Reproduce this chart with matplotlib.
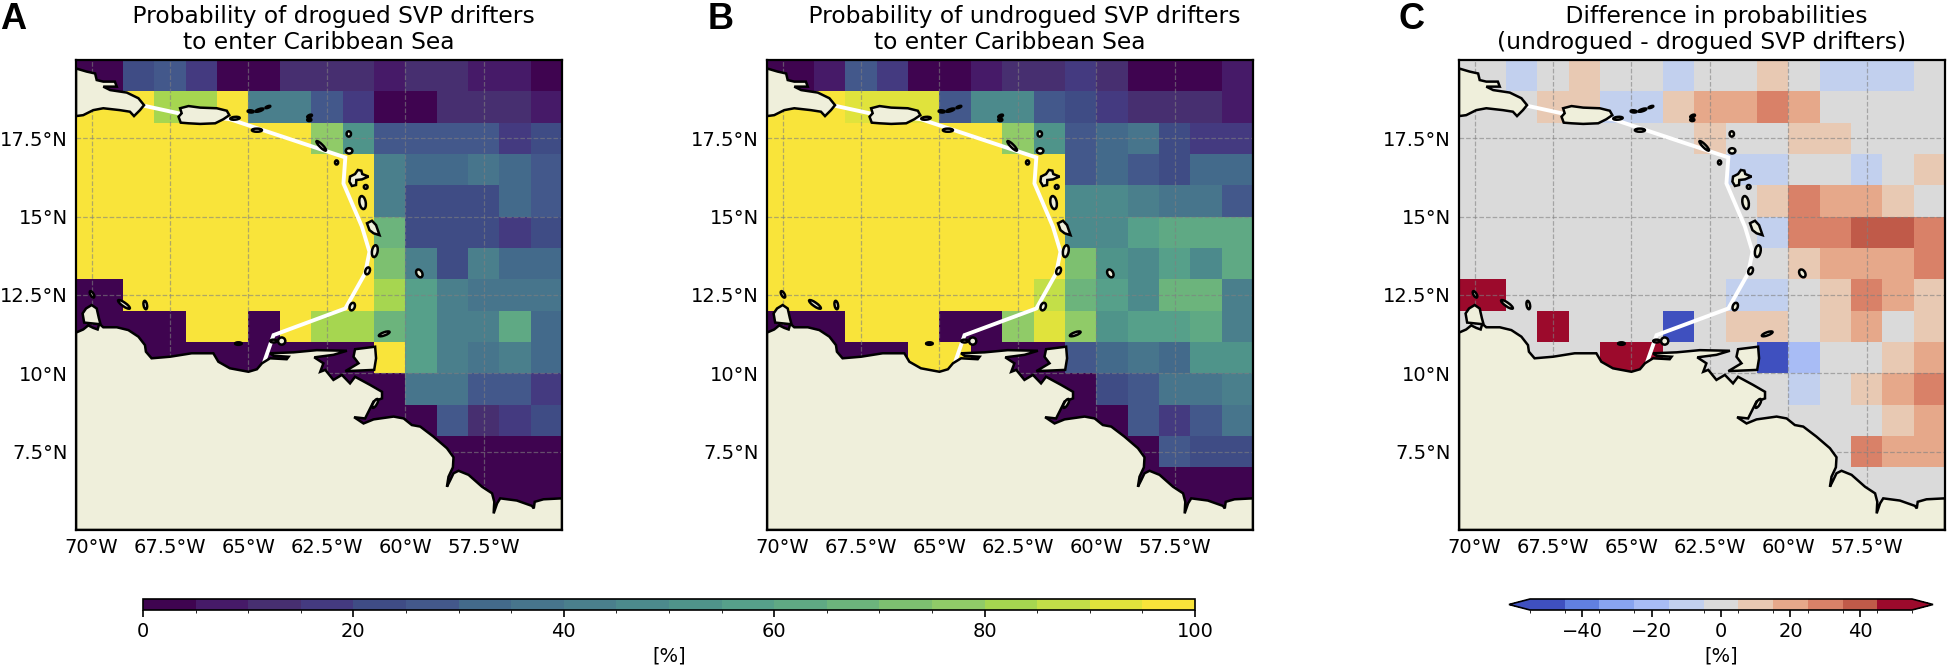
import matplotlib
matplotlib.use('Agg')
import matplotlib.pyplot as plt
from matplotlib.colors import ListedColormap, BoundaryNorm
from matplotlib.patches import Ellipse, Polygon

lon_edges = list(range(-71, -54))
lat_edges = list(range(20, 4, -1))
lon_ticks = [-70, -67.5, -65, -62.5, -60, -57.5]
lat_ticks = [7.5, 10, 12.5, 15, 17.5]
lon_labels = ['70°W', '67.5°W', '65°W', '62.5°W', '60°W', '57.5°W']
lat_labels = ['7.5°N', '10°N', '12.5°N', '15°N', '17.5°N']

# rows go from north to south, columns from west to east
drogued = [
    [2.5, 2.5, 22.5, 27.5, 17.5, 2.5, 2.5, 12.5, 12.5, 12.5, 7.5, 12.5, 12.5, 7.5, 7.5, 2.5],
    [97.5, 97.5, 97.5, 82.5, 82.5, 97.5, 42.5, 42.5, 27.5, 17.5, 2.5, 2.5, 12.5, 12.5, 12.5, 7.5],
    [97.5, 97.5, 97.5, 97.5, 97.5, 97.5, 97.5, 97.5, 77.5, 52.5, 27.5, 27.5, 27.5, 27.5, 17.5, 22.5],
    [97.5, 97.5, 97.5, 97.5, 97.5, 97.5, 97.5, 97.5, 97.5, 97.5, 42.5, 32.5, 32.5, 37.5, 32.5, 27.5],
    [97.5, 97.5, 97.5, 97.5, 97.5, 97.5, 97.5, 97.5, 97.5, 97.5, 42.5, 22.5, 22.5, 22.5, 32.5, 27.5],
    [97.5, 97.5, 97.5, 97.5, 97.5, 97.5, 97.5, 97.5, 97.5, 97.5, 67.5, 22.5, 22.5, 22.5, 17.5, 22.5],
    [97.5, 97.5, 97.5, 97.5, 97.5, 97.5, 97.5, 97.5, 97.5, 97.5, 72.5, 42.5, 22.5, 42.5, 32.5, 32.5],
    [2.5, 2.5, 97.5, 97.5, 97.5, 97.5, 97.5, 97.5, 97.5, 97.5, 82.5, 57.5, 42.5, 37.5, 37.5, 37.5],
    [2.5, 2.5, 2.5, 2.5, 97.5, 97.5, 2.5, 97.5, 82.5, 82.5, 67.5, 57.5, 42.5, 42.5, 62.5, 32.5],
    [2.5, 2.5, 2.5, 2.5, 2.5, 2.5, 2.5, 2.5, 2.5, 2.5, 97.5, 57.5, 42.5, 37.5, 42.5, 32.5],
    [2.5, 2.5, 2.5, 2.5, 2.5, 2.5, 2.5, 2.5, 2.5, 2.5, 2.5, 37.5, 37.5, 27.5, 27.5, 17.5],
    [2.5, 2.5, 2.5, 2.5, 2.5, 2.5, 2.5, 2.5, 2.5, 2.5, 2.5, 2.5, 27.5, 12.5, 17.5, 22.5],
    [2.5, 2.5, 2.5, 2.5, 2.5, 2.5, 2.5, 2.5, 2.5, 2.5, 2.5, 2.5, 2.5, 2.5, 2.5, 2.5],
    [2.5, 2.5, 2.5, 2.5, 2.5, 2.5, 2.5, 2.5, 2.5, 2.5, 2.5, 2.5, 2.5, 2.5, 2.5, 2.5],
    [2.5, 2.5, 2.5, 2.5, 2.5, 2.5, 2.5, 2.5, 2.5, 2.5, 2.5, 2.5, 2.5, 2.5, 2.5, 2.5],
]
undrogued = [
    [2.5, 2.5, 7.5, 27.5, 17.5, 2.5, 2.5, 7.5, 12.5, 12.5, 17.5, 12.5, 2.5, 2.5, 2.5, 7.5],
    [97.5, 97.5, 97.5, 92.5, 92.5, 92.5, 27.5, 47.5, 47.5, 27.5, 22.5, 17.5, 12.5, 12.5, 12.5, 7.5],
    [97.5, 97.5, 97.5, 97.5, 97.5, 97.5, 97.5, 97.5, 77.5, 52.5, 27.5, 32.5, 37.5, 22.5, 17.5, 17.5],
    [97.5, 97.5, 97.5, 97.5, 97.5, 97.5, 97.5, 97.5, 97.5, 97.5, 27.5, 32.5, 27.5, 22.5, 32.5, 32.5],
    [97.5, 97.5, 97.5, 97.5, 97.5, 97.5, 97.5, 97.5, 97.5, 97.5, 47.5, 47.5, 42.5, 37.5, 37.5, 27.5],
    [97.5, 97.5, 97.5, 97.5, 97.5, 97.5, 97.5, 97.5, 97.5, 97.5, 47.5, 47.5, 57.5, 62.5, 62.5, 62.5],
    [97.5, 97.5, 97.5, 97.5, 97.5, 97.5, 97.5, 97.5, 97.5, 97.5, 72.5, 52.5, 47.5, 57.5, 47.5, 62.5],
    [97.5, 97.5, 97.5, 97.5, 97.5, 97.5, 97.5, 97.5, 97.5, 87.5, 67.5, 57.5, 47.5, 67.5, 67.5, 42.5],
    [2.5, 2.5, 2.5, 97.5, 97.5, 97.5, 2.5, 2.5, 77.5, 92.5, 77.5, 52.5, 57.5, 57.5, 62.5, 42.5],
    [2.5, 2.5, 2.5, 2.5, 2.5, 97.5, 97.5, 2.5, 2.5, 2.5, 27.5, 32.5, 37.5, 32.5, 52.5, 52.5],
    [2.5, 2.5, 2.5, 2.5, 2.5, 2.5, 2.5, 2.5, 2.5, 2.5, 2.5, 22.5, 27.5, 37.5, 37.5, 42.5],
    [2.5, 2.5, 2.5, 2.5, 2.5, 2.5, 2.5, 2.5, 2.5, 2.5, 2.5, 2.5, 27.5, 17.5, 27.5, 37.5],
    [2.5, 2.5, 2.5, 2.5, 2.5, 2.5, 2.5, 2.5, 2.5, 2.5, 2.5, 2.5, 2.5, 27.5, 22.5, 22.5],
    [2.5, 2.5, 2.5, 2.5, 2.5, 2.5, 2.5, 2.5, 2.5, 2.5, 2.5, 2.5, 2.5, 2.5, 2.5, 2.5],
    [2.5, 2.5, 2.5, 2.5, 2.5, 2.5, 2.5, 2.5, 2.5, 2.5, 2.5, 2.5, 2.5, 2.5, 2.5, 2.5],
]
difference = [
    [0, 0, -10, 0, 10, 0, 0, -10, 0, 0, 10, 0, -10, -10, -10, 0],
    [0, 0, 0, 10, 10, -10, -10, 10, 20, 20, 30, 20, 0, 0, 0, 0],
    [0, 0, 0, 0, 0, 0, 0, 0, 10, 0, 0, 10, 10, 0, 0, 0],
    [0, 0, 0, 0, 0, 0, 0, 0, 0, -10, -10, 0, 0, -10, 0, 10],
    [0, 0, 0, 0, 0, 0, 0, 0, 0, 0, 10, 30, 20, 20, 10, 0],
    [0, 0, 0, 0, 0, 0, 0, 0, 0, 0, -10, 30, 30, 40, 40, 30],
    [0, 0, 0, 0, 0, 0, 0, 0, 0, 0, 0, 10, 20, 20, 20, 30],
    [50, 50, 0, 0, 0, 0, 0, 0, 0, -10, -10, 0, 10, 30, 20, 10],
    [0, 0, 0, 50, 0, 0, 0, -50, 0, 10, 10, 0, 10, 20, 0, 10],
    [0, 0, 0, 0, 0, 50, 50, 0, 0, 0, -50, -20, 0, 0, 10, 20],
    [0, 0, 0, 0, 0, 0, 0, 0, 0, 0, 0, -10, 0, 10, 20, 30],
    [0, 0, 0, 0, 0, 0, 0, 0, 0, 0, 0, 0, 0, 0, 10, 20],
    [0, 0, 0, 0, 0, 0, 0, 0, 0, 0, 0, 0, 0, 30, 20, 20],
    [0, 0, 0, 0, 0, 0, 0, 0, 0, 0, 0, 0, 0, 0, 0, 0],
    [0, 0, 0, 0, 0, 0, 0, 0, 0, 0, 0, 0, 0, 0, 0, 0],
]

prob_levels = list(range(0, 105, 5))
prob_colors = ['#3f0450', '#461a68', '#472f70', '#443a80', '#3f4c85', '#43588b', '#436a8b',
               '#47758c', '#4a7f8c', '#4c8a8c', '#4f948a', '#56a08a', '#5fa984', '#6cb47c',
               '#7dc070', '#90cb68', '#a6d650', '#c3df48', '#e0e33c', '#f9e43a']
diff_levels = list(range(-55, 65, 10))
diff_colors = ['#3f50bf', '#6180e0', '#88a4f0', '#a8bcf5', '#c2d0ee', '#dadada',
               '#e8c9b3', '#e6a88a', '#d98168', '#c05a49', '#9c0a2c']

# wybrzeze
main_coast = [(-70.50, 11.30), (-70.27, 11.40), (-70.11, 11.53), (-69.95, 11.45), (-69.81, 11.40),
              (-69.76, 11.57), (-70.24, 11.62), (-70.29, 11.91), (-70.18, 12.07), (-70.00, 12.18),
              (-69.84, 12.07), (-69.77, 11.76), (-69.71, 11.54), (-69.63, 11.47), (-69.20, 11.47),
              (-68.83, 11.38), (-68.51, 11.17), (-68.30, 10.90), (-68.27, 10.69), (-68.09, 10.48),
              (-67.50, 10.53), (-66.81, 10.64), (-66.12, 10.64), (-65.96, 10.37), (-65.59, 10.16),
              (-65.00, 10.05), (-64.73, 10.13), (-64.57, 10.32), (-64.31, 10.48), (-63.78, 10.45),
              (-63.72, 10.53), (-64.20, 10.56), (-64.31, 10.64), (-63.56, 10.67), (-62.82, 10.74),
              (-61.86, 10.72), (-62.29, 10.59), (-62.90, 10.51), (-62.61, 10.32), (-62.71, 10.05),
              (-62.55, 10.11), (-62.29, 9.79), (-62.02, 9.95), (-61.76, 9.68), (-61.60, 9.89),
              (-61.12, 9.63), (-60.74, 9.41), (-60.74, 9.20), (-61.01, 9.10), (-61.12, 8.88),
              (-61.28, 8.56), (-61.63, 8.60), (-61.33, 8.40), (-61.01, 8.53), (-60.37, 8.62),
              (-60.05, 8.56), (-59.79, 8.35), (-59.52, 8.30), (-59.10, 7.98), (-58.67, 7.61),
              (-58.46, 7.32), (-58.48, 7.00), (-58.62, 6.70), (-58.67, 6.38), (-58.56, 6.60),
              (-58.46, 6.81), (-58.30, 6.89), (-57.98, 6.76), (-57.55, 6.38), (-57.23, 6.17),
              (-57.16, 5.90), (-57.18, 5.53), (-57.07, 5.85), (-56.97, 6.01), (-56.44, 5.94),
              (-55.96, 5.77), (-55.90, 5.69), (-55.87, 5.90), (-55.59, 5.98), (-55.00, 6.01),
              (-55.00, 5.00), (-70.50, 5.00)]
hispaniola = [(-70.50, 19.73), (-70.16, 19.63), (-69.89, 19.57), (-69.84, 19.36), (-69.63, 19.31),
              (-69.26, 19.31), (-69.20, 19.15), (-69.63, 19.15), (-69.41, 19.04), (-68.88, 18.96),
              (-68.51, 18.78), (-68.33, 18.56), (-68.46, 18.40), (-68.65, 18.21), (-68.78, 18.35),
              (-69.10, 18.40), (-69.63, 18.46), (-69.95, 18.40), (-70.27, 18.24), (-70.50, 18.21)]
puerto_rico = [(-67.18, 18.46), (-66.91, 18.53), (-66.54, 18.48), (-66.01, 18.46), (-65.69, 18.38),
               (-65.61, 18.24), (-65.80, 18.11), (-66.06, 17.98), (-66.54, 17.96), (-66.91, 17.98),
               (-67.16, 18.00), (-67.23, 18.19), (-67.13, 18.30)]
trinidad = [(-61.60, 10.77), (-60.96, 10.85), (-60.93, 10.48), (-60.99, 10.11), (-61.91, 10.07),
            (-61.49, 10.32), (-61.65, 10.53)]
guadeloupe = [(-61.76, 16.28), (-61.60, 16.36), (-61.51, 16.49), (-61.40, 16.47), (-61.37, 16.36),
              (-61.17, 16.28), (-61.38, 16.19), (-61.56, 16.17), (-61.57, 16.01), (-61.70, 15.98),
              (-61.78, 16.12)]
martinique = [(-61.22, 14.79), (-61.06, 14.87), (-60.93, 14.73), (-60.82, 14.41), (-61.01, 14.47),
              (-61.14, 14.57)]
land_polygons = [main_coast, hispaniola, puerto_rico, trinidad, guadeloupe, martinique]

# lon, lat, szerokosc, wysokosc, kat
small_islands = [
    (-65.43, 18.14, 0.30, 0.09, 5), (-64.93, 18.36, 0.19, 0.07, -5), (-64.65, 18.40, 0.26, 0.07, 18),
    (-64.38, 18.50, 0.16, 0.05, 20), (-64.73, 17.76, 0.32, 0.10, 0), (-63.05, 18.21, 0.16, 0.07, 25),
    (-63.06, 18.09, 0.13, 0.08, 0), (-61.80, 17.64, 0.14, 0.17, 0), (-61.79, 17.10, 0.21, 0.17, 0),
    (-62.19, 16.73, 0.10, 0.13, 0), (-62.68, 17.26, 0.42, 0.10, -45), (-61.26, 15.95, 0.12, 0.12, 0),
    (-61.36, 15.45, 0.20, 0.42, 10), (-60.97, 13.90, 0.18, 0.38, -10), (-61.20, 13.27, 0.14, 0.23, -20),
    (-59.55, 13.19, 0.18, 0.27, 30), (-61.69, 12.13, 0.16, 0.25, -20), (-60.67, 11.26, 0.36, 0.10, 20),
    (-64.20, 11.03, 0.21, 0.09, 0), (-63.94, 11.03, 0.23, 0.23, 0), (-65.32, 10.95, 0.21, 0.08, 0),
    (-69.99, 12.52, 0.10, 0.23, 30), (-68.97, 12.20, 0.45, 0.12, -35), (-68.29, 12.18, 0.11, 0.27, 10),
    (-60.96, 9.04, 0.12, 0.32, -30),
]

# granica Morza Karaibskiego
boundary_lon = [-68.33, -67.23, -65.59, -61.91, -61.97, -61.38, -61.14, -61.28, -61.91, -64.20, -64.57]
boundary_lat = [18.54, 18.30, 18.11, 16.89, 16.06, 14.68, 13.88, 13.19, 12.07, 11.22, 10.16]

# first lines really sit off-centre in the reference, hence the leading spaces
titles = ['    Probability of drogued SVP drifters\nto enter Caribbean Sea',
          '    Probability of undrogued SVP drifters\nto enter Caribbean Sea',
          '    Difference in probabilities\n(undrogued - drogued SVP drifters)']
letters = ['A', 'B', 'C']
letter_x = [0, 708, 1398]

W, H = 1950, 672


def px_axes(fig, left, right, top, bottom):
    return fig.add_axes([left / W, 1 - bottom / H, (right - left) / W, (bottom - top) / H])


def draw_map(ax, values, cmap, norm, title):
    mesh = ax.pcolormesh(lon_edges, lat_edges, values, cmap=cmap, norm=norm, zorder=1)
    ax.plot(boundary_lon, boundary_lat, color='white', lw=2.8, zorder=2, solid_joinstyle='miter')
    for poly in land_polygons:
        ax.add_patch(Polygon(poly, closed=True, facecolor='#efefdb', edgecolor='black', lw=1.8, zorder=3))
    for lon, lat, w, h, ang in small_islands:
        ax.add_patch(Ellipse((lon, lat), w, h, angle=ang, facecolor='#efefdb', edgecolor='black', lw=1.8, zorder=3))
    ax.set_xlim(-70.5, -55)
    ax.set_ylim(5, 20)
    ax.set_xticks(lon_ticks, lon_labels, fontsize=14)
    ax.set_yticks(lat_ticks, lat_labels, fontsize=14)
    ax.tick_params(length=0, pad=6)
    ax.grid(True, color='gray', ls='--', lw=0.9, alpha=0.6)
    for s in ax.spines.values():
        s.set_linewidth(1.6)
        s.set_zorder(5)
    ax.set_title(title, fontsize=16.8, pad=8, linespacing=1.15)
    return mesh


fig = plt.figure(figsize=(W / 100, H / 100), dpi=100)

prob_cmap = ListedColormap(prob_colors)
prob_norm = BoundaryNorm(prob_levels, prob_cmap.N)
diff_cmap = ListedColormap(diff_colors)
diff_cmap.set_under(diff_colors[0])
diff_cmap.set_over(diff_colors[-1])
diff_norm = BoundaryNorm(diff_levels, diff_cmap.N)

ax_a = px_axes(fig, 76, 562, 60, 530)
ax_b = px_axes(fig, 767, 1253, 60, 530)
ax_c = px_axes(fig, 1459, 1945, 60, 530)

mesh_a = draw_map(ax_a, drogued, prob_cmap, prob_norm, titles[0])
draw_map(ax_b, undrogued, prob_cmap, prob_norm, titles[1])
mesh_c = draw_map(ax_c, difference, diff_cmap, diff_norm, titles[2])

for letter, x in zip(letters, letter_x):
    fig.text(x / W, 1 - 29 / H, letter, fontsize=26, fontweight='bold', family='Liberation Sans', ha='left', va='baseline')

cax1 = px_axes(fig, 143, 1195, 599, 610)
cb1 = fig.colorbar(mesh_a, cax=cax1, orientation='horizontal', ticks=[0, 20, 40, 60, 80, 100], spacing='proportional')
cb1.set_label('[%]', fontsize=14, labelpad=4)
cb1.ax.tick_params(labelsize=14, length=5, width=1.2)
cb1.outline.set_linewidth(1.2)

# the arrows sit inside cax, so it runs from tip to tip
cax2 = px_axes(fig, 1509, 1933, 599, 610)
cb2 = fig.colorbar(mesh_c, cax=cax2, orientation='horizontal', ticks=[-40, -20, 0, 20, 40], extend='both', extendfrac=0.055)
cb2.set_label('[%]', fontsize=14, labelpad=4)
cb2.ax.tick_params(labelsize=14, length=5, width=1.2)
cb2.outline.set_linewidth(1.2)

fig.savefig('out.png', dpi=100)
